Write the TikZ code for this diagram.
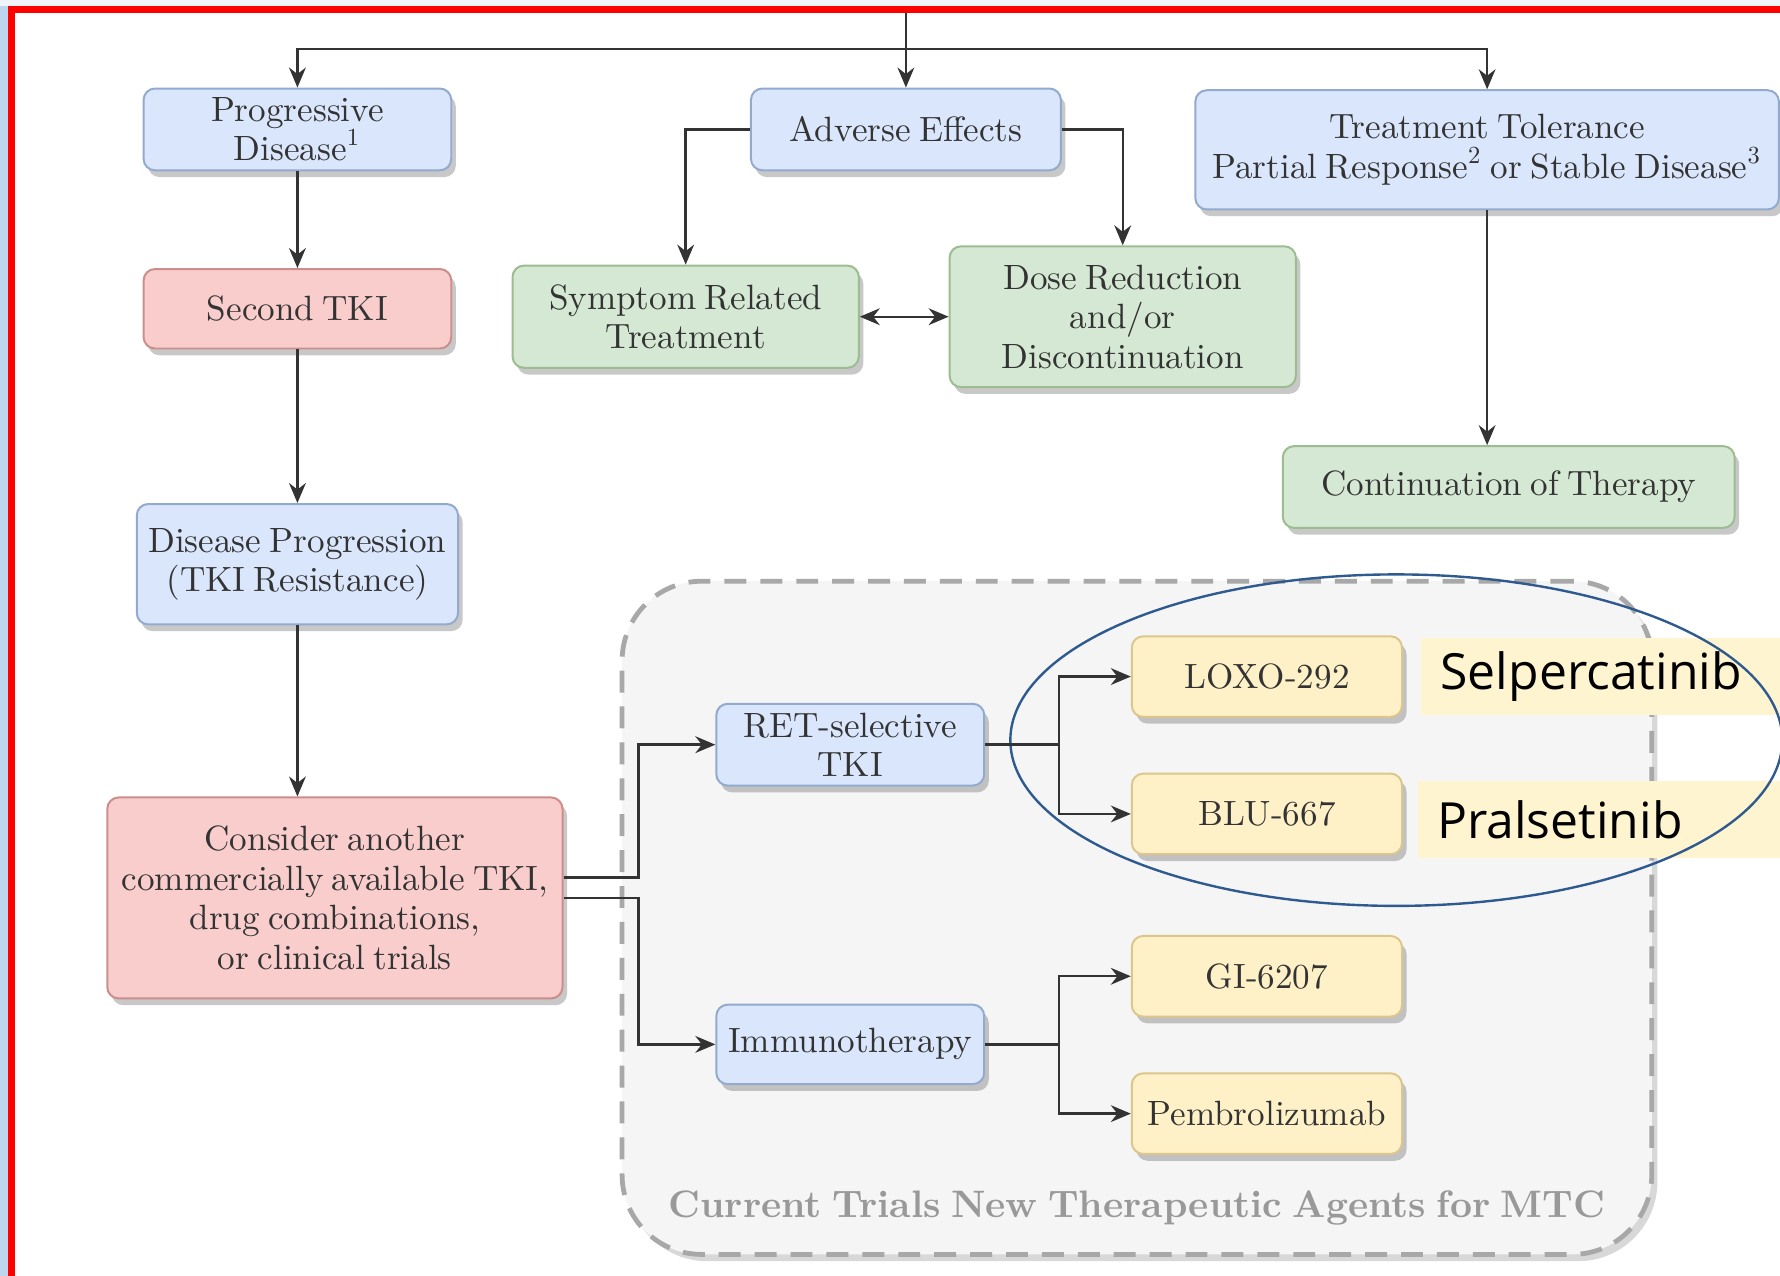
\documentclass[tikz,border=0pt]{standalone}
\usepackage{fontspec}
\setmainfont{lmroman10}[Extension=.otf,UprightFont=*-regular,BoldFont=*-bold,ItalicFont=*-italic,BoldItalicFont=*-bolditalic,WordSpace=0.72]
\newfontfamily\handfont{Open Sans}
\usepackage{tikz}
\usetikzlibrary{%
  positioning
 ,arrows.meta
 ,shapes
 ,shadows
}
\definecolor{bluefill}{HTML}{DAE6FB}
\definecolor{blueline}{HTML}{93AACF}
\definecolor{redfill}{HTML}{F8CDCC}
\definecolor{redline}{HTML}{CC8E8B}
\definecolor{greenfill}{HTML}{D4E8D3}
\definecolor{greenline}{HTML}{9CBD90}
\definecolor{goldfill}{HTML}{FEF1C8}
\definecolor{goldline}{HTML}{DCC68C}
\definecolor{trialfill}{HTML}{F5F5F5}
\definecolor{trialline}{HTML}{A8A8A8}
\definecolor{trialtext}{HTML}{999999}
\definecolor{ringline}{HTML}{2F5A8F}
\definecolor{namefill}{HTML}{FFF4D0}
\definecolor{ink}{HTML}{333333}
\definecolor{stripblue}{HTML}{BDD6EE}
\definecolor{stripgray}{HTML}{F0F4F8}
\tikzstyle{flow}=[on grid,>={Stealth[length=5pt,width=4.2pt]}]
\tikzstyle{cell}=[rectangle,rounded corners=0.1cm,line width=0.5pt,align=center,text=ink,inner sep=2pt,font=\fontsize{8.8}{9.9}\selectfont,drop shadow={shadow xshift=0.04cm,shadow yshift=-0.06cm,opacity=0.3,fill=black!70}]
\tikzstyle{bluecell}=[cell,fill=bluefill,draw=blueline]
\tikzstyle{redcell}=[cell,fill=redfill,draw=redline]
\tikzstyle{greencell}=[cell,fill=greenfill,draw=greenline]
\tikzstyle{goldcell}=[cell,fill=goldfill,draw=goldline,minimum width=2.38cm,minimum height=0.71cm]
\tikzstyle{trialcell}=[rectangle,rounded corners=0.7cm,fill=trialfill,draw=trialline,line width=1.2pt,dash pattern=on 5.5pt off 3.5pt,minimum width=9.07cm,minimum height=5.93cm,drop shadow={shadow xshift=0.05cm,shadow yshift=-0.06cm,opacity=0.25,fill=black!60}]
\tikzstyle{trialname}=[text=trialtext,font=\bfseries\fontsize{9.6}{11.5}\selectfont]
\tikzstyle{namecell}=[rectangle,fill=namefill,text width=3.0cm,minimum height=0.68cm,inner xsep=0.17cm,align=left,text=black,font=\handfont\fontsize{12.5}{14}\selectfont]
\tikzstyle{ring}=[ellipse,draw=ringline,line width=0.6pt,minimum width=6.8cm,minimum height=2.92cm,inner sep=0pt]
\tikzstyle{link}=[->,draw=black!80,line width=0.6pt]

\begin{document}
\begin{tikzpicture}[flow]
  \useasboundingbox (0,0) rectangle (15.68,-11.24);
  \fill[white] (0,0) rectangle (15.68,-11.24);
  \fill[stripblue] (0,0) rectangle (0.07,-11.24);
  \fill[stripgray] (0,0) rectangle (15.68,-0.055);

  \node[trialcell] (trials) at (10.015,-8.085) {};
  \node[trialname] (trialsname) at ([yshift=0.43cm]trials.south) {Current Trials New Therapeutic Agents for MTC};

  \node[bluecell,minimum width=2.71cm,minimum height=0.72cm] (prog) at (2.62,-1.14) {Progressive\\Disease\textsuperscript{1}};
  \node[bluecell,minimum width=2.73cm,minimum height=0.72cm] (adv) [right=5.36cm of prog] {Adverse Effects};
  \node[bluecell,minimum width=5.14cm,minimum height=1.05cm] (tol) [right=5.12cm of adv,yshift=-0.18cm] {Treatment Tolerance\\Partial Response\textsuperscript{2} or Stable Disease\textsuperscript{3}};
  \node[redcell,minimum width=2.71cm,minimum height=0.70cm] (second) [below=1.58cm of prog] {Second TKI};
  \node[greencell,minimum width=3.05cm,minimum height=0.90cm] (symp) [below left=1.65cm and 1.94cm of adv] {Symptom Related\\Treatment};
  \node[greencell,minimum width=3.05cm,minimum height=1.24cm] (dose) [right=3.85cm of symp] {Dose Reduction\\and/or\\Discontinuation};
  \node[greencell,minimum width=3.98cm,minimum height=0.72cm] (cont) [below=2.97cm of tol,xshift=0.19cm] {Continuation of Therapy};
  \node[bluecell,minimum width=2.83cm,minimum height=1.06cm] (disprog) [below=2.25cm of second] {Disease Progression\\(TKI Resistance)};
  \node[redcell,minimum width=4.01cm,minimum height=1.77cm] (consider) [below=2.94cm of disprog,xshift=0.33cm] {Consider another\\commercially available TKI,\\drug combinations,\\or clinical trials};
  \node[bluecell,minimum width=2.36cm,minimum height=0.72cm] (ret) [above right=1.35cm and 4.54cm of consider] {RET-selective\\TKI};
  \node[bluecell,minimum width=2.36cm,minimum height=0.70cm] (immuno) [below=2.64cm of ret] {Immunotherapy};
  \node[goldcell] (loxo) [above right=0.60cm and 3.67cm of ret] {LOXO-292};
  \node[goldcell] (blu) [below=1.21cm of loxo] {BLU-667};
  \node[goldcell] (gi) [above right=0.60cm and 3.67cm of immuno] {GI-6207};
  \node[goldcell] (pembro) [below=1.21cm of gi] {Pembrolizumab};

  \node[namecell] (selpername) [right=3.03cm of loxo] {Selpercatinib};
  \node[namecell] (pralname) [right=3.00cm of blu,yshift=-0.05cm] {Pralsetinib};
  \node[ring] (retring) at (12.30,-6.52) {};

  \coordinate[above=1.06cm of adv] (feed);
  \coordinate[above=0.71cm of adv] (bus);
  \draw[link] (feed) -- (adv);
  \draw[link] (bus) -| (prog);
  \draw[link] (bus) -| (tol);
  \draw[link] (prog) -- (second);
  \draw[link] (second) -- (disprog);
  \draw[link] (disprog.south) -- (disprog.south |- consider.north);
  \draw[link] (adv.west) -| (symp);
  \draw[link] (adv.east) -| (dose);
  \draw[link,<->] (symp.east) -- (symp.east -| dose.west);
  \draw[link] (tol.south) -- (tol.south |- cont.north);
  \draw[link] ([yshift=0.18cm]consider.east) -- ++(0.66,0) |- (ret);
  \draw[link] (consider.east) -- ++(0.66,0) |- (immuno);
  \draw[link] (ret.east) -- ++(0.65,0) |- (loxo);
  \draw[link] (ret.east) -- ++(0.65,0) |- (blu);
  \draw[link] (immuno.east) -- ++(0.65,0) |- (gi);
  \draw[link] (immuno.east) -- ++(0.65,0) |- (pembro);

  \draw[red,line width=0.062cm] (0.101,-11.4) -- (0.101,-0.084) -- (15.8,-0.084);
\end{tikzpicture}
\end{document}
